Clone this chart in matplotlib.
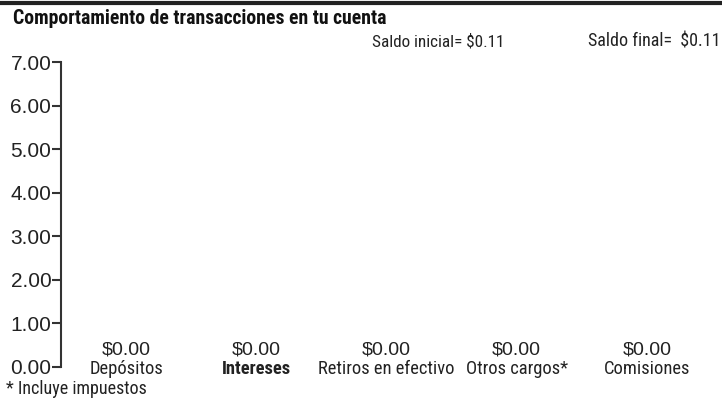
import matplotlib
matplotlib.use("Agg")
import matplotlib.pyplot as plt
from matplotlib.lines import Line2D

NARROW = ["Roboto Condensed", "DejaVu Sans"]
ARIAL = ["Liberation Sans", "DejaVu Sans"]

categories = ["Depósitos", "Intereses", "Retiros en efectivo", "Otros cargos*", "Comisiones"]
values = [0.00, 0.00, 0.00, 0.00, 0.00]
yticks = [0, 1, 2, 3, 4, 5, 6, 7]
title = "Comportamiento de transacciones en tu cuenta"
saldo_inicial = "Saldo inicial= $0.11"
saldo_final = "Saldo final=  $0.11"
footnote = "* Incluye impuestos"

fig = plt.figure(figsize=(7.22, 4.0), dpi=100)
ax = fig.add_axes([61/722, 1-367/400, (712-61)/722, (367-62)/400])

x = list(range(len(categories)))
ax.bar(x, values, width=0.6, color="#555555")
ax.set_xlim(-0.5, len(categories) - 0.5)
ax.set_ylim(0, 7)
ax.set_yticks(yticks)
ax.set_yticklabels([f"{v:.2f}" for v in yticks], fontsize=15, family=ARIAL, color="#222222")
ax.tick_params(axis="y", direction="out", length=6.5, width=1.5, color="#333333", pad=0.5)
ax.set_xticks([])
for s in ["top", "right", "bottom"]:
    ax.spines[s].set_visible(False)
ax.spines["left"].set_linewidth(1.5)
ax.spines["left"].set_color("#333333")

for xi, v, c in zip(x, values, categories):
    ax.annotate(f"${v:.2f}", (xi, v), xytext=(0, 6), textcoords="offset points",
                ha="center", va="bottom", fontsize=14, family=ARIAL, color="#222222")
    ax.annotate(c, (xi, v), xytext=(0, 5), textcoords="offset points",
                ha="center", va="top", fontsize=13.3, family=NARROW, color="#222222",
                fontweight="bold" if c == "Intereses" else "normal")

fig.text(13/722, 1-18/400, title, fontsize=14.2, family=NARROW, fontweight="bold",
         va="center", ha="left", color="#111111")
fig.text(372/722, 1-42/400, saldo_inicial, fontsize=12.3, family=NARROW,
         va="center", ha="left", color="#222222")
fig.text(588/722, 1-42/400, saldo_final, fontsize=13, family=NARROW,
         va="center", ha="left", color="#222222")
fig.text(6/722, 1-389/400, footnote, fontsize=13, family=NARROW,
         va="center", ha="left", color="#222222")
fig.add_artist(Line2D([0, 1], [1-3/400, 1-3/400], color="#222222", linewidth=3,
                      transform=fig.transFigure))

fig.savefig("out.png", dpi=100)
